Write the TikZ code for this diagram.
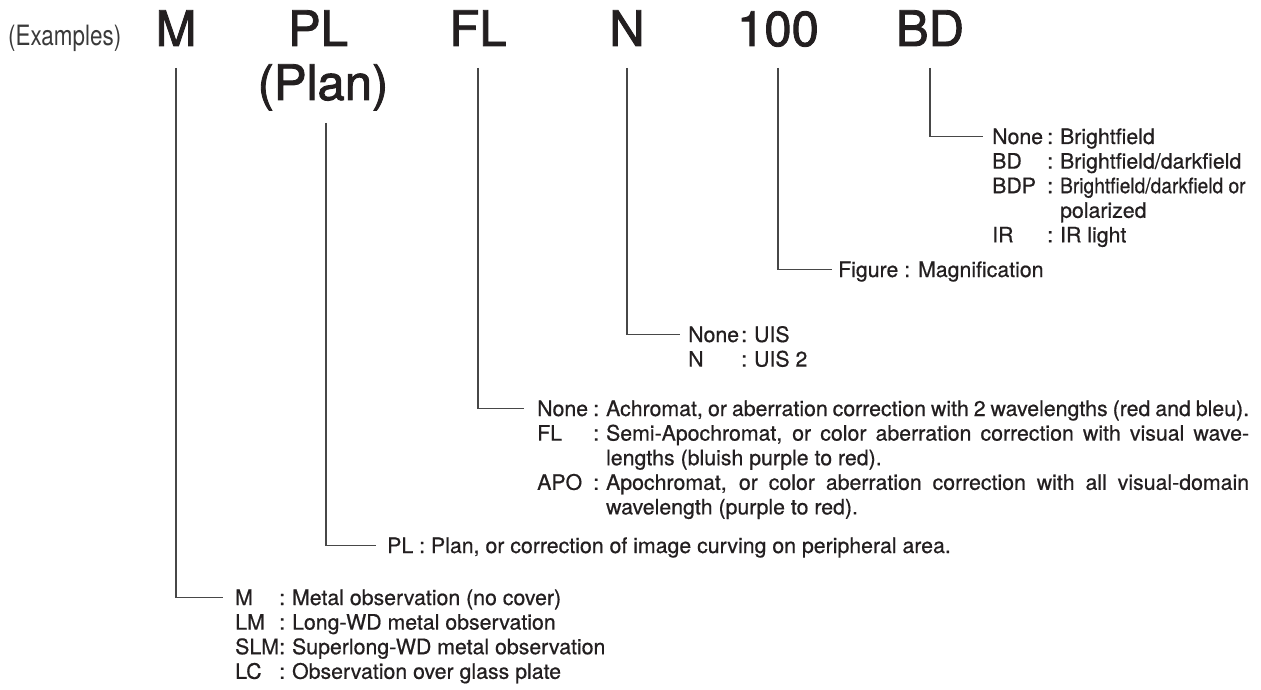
\documentclass[tikz,border=0pt]{standalone}
\usepackage{fontspec}
\setmainfont{TeX Gyre Heros}
\newfontfamily\listfont{TeX Gyre Heros}[FakeBold=0.6]
\newfontfamily\codefont{TeX Gyre Heros}[FakeBold=1.8]
\usepackage{graphicx}
\usetikzlibrary{positioning}
\definecolor{mk-ink}{HTML}{231F20}
\definecolor{mk-rule}{HTML}{474747}
\definecolor{mk-light}{HTML}{3A3A3A}

\begin{document}
\begin{tikzpicture}[
    x=1pt, y=-1pt, % one unit = one pixel of the page
    inner sep=0pt,
    text=mk-ink
  ]

  % Styles for the code letters, the lists and the brackets
  \tikzset{
    code/.style={anchor=base, font=\codefont\fontsize{49}{54}\selectfont},
    list/.style={anchor=base west, font=\listfont\fontsize{21.3}{24.6}\selectfont},
    link/.style={draw=mk-rule, line width=1.3pt}
  }
  \useasboundingbox (0,0) rectangle (1261,690);

  % Example code, one node per part
  \node (examples) [anchor=base west, font=\fontsize{28}{30}\selectfont, text=mk-light] at (8,46) {\scalebox{0.8}[1]{(Examples)}};
  \node (m)    [code] at (176,46) {M};
  \node (pl)   [code] at (318,46) {PL};
  \node (plan) [code] at (323,100) {(Plan)};
  \node (fl)   [code] at (478,46) {FL};
  \node (n)    [code] at (627,46) {N};
  \node (mag)  [code] at (778,46) {100};
  \node (bd)   [code] at (930,46) {BD};

  % Meaning of each part
  \node (bdlist) [list] at (992,144) {\begin{tabular}[t]{@{}p{55pt}@{}l@{\hspace{7pt}}l@{}}
    None & : & Brightfield\\
    BD   & : & Brightfield/darkfield\\
    BDP  & : & \scalebox{0.9}[1]{Brightfield/darkfield or}\\
         &   & polarized\\
    IR   & : & IR light
  \end{tabular}};
  \node (maglist) [list] at (838,277) {Figure : Magnification};
  \node (nlist) [list] at (688,342) {\begin{tabular}[t]{@{}p{53pt}@{}l@{\hspace{7pt}}l@{}}
    None & : & UIS\\
    N    & : & UIS 2
  \end{tabular}};
  \node (fllist) [list] at (537,416) {\begin{tabular}[t]{@{}p{56pt}@{}l@{\hspace{7pt}}l@{}}
    None & : & \makebox[643pt][s]{Achromat, or aberration correction with 2 wavelengths (red and bleu).}\\
    FL   & : & \makebox[643pt][s]{Semi-Apochromat, or color aberration correction with visual wave-}\\
         &   & lengths (bluish purple to red).\\
    APO  & : & \makebox[643pt][s]{Apochromat, or color aberration correction with all visual-domain}\\
         &   & wavelength (purple to red).
  \end{tabular}};
  \node (pllist) [list] at (387,553) {PL : Plan, or correction of image curving on peripheral area.};
  \node (mlist) [list] at (235,605) {\begin{tabular}[t]{@{}p{44pt}@{}l@{\hspace{7pt}}l@{}}
    M   & : & Metal observation (no cover)\\
    LM  & : & Long-WD metal observation\\
    SLM & : & Superlong-WD metal observation\\
    LC  & : & Observation over glass plate
  \end{tabular}};

  % Brackets from each part down to its list
  \draw[link] ([yshift=-22pt]bd.base) |- ([xshift=-9pt,yshift=7.5pt]bdlist.base west);
  \draw[link] ([yshift=-22pt]mag.base) |- ([xshift=-6pt,yshift=7.5pt]maglist.base west);
  \draw[link] ([yshift=-22pt]n.base) |- ([xshift=-8pt,yshift=7.5pt]nlist.base west);
  \draw[link] ([yshift=-22pt]fl.base) |- ([xshift=-13pt,yshift=7.5pt]fllist.base west);
  \draw[link] ([xshift=3pt,yshift=-23pt]plan.base) |- ([xshift=-11pt,yshift=7.5pt]pllist.base west);
  \draw[link] ([yshift=-22pt]m.base) |- ([xshift=-12pt,yshift=7.5pt]mlist.base west);

\end{tikzpicture}
\end{document}
